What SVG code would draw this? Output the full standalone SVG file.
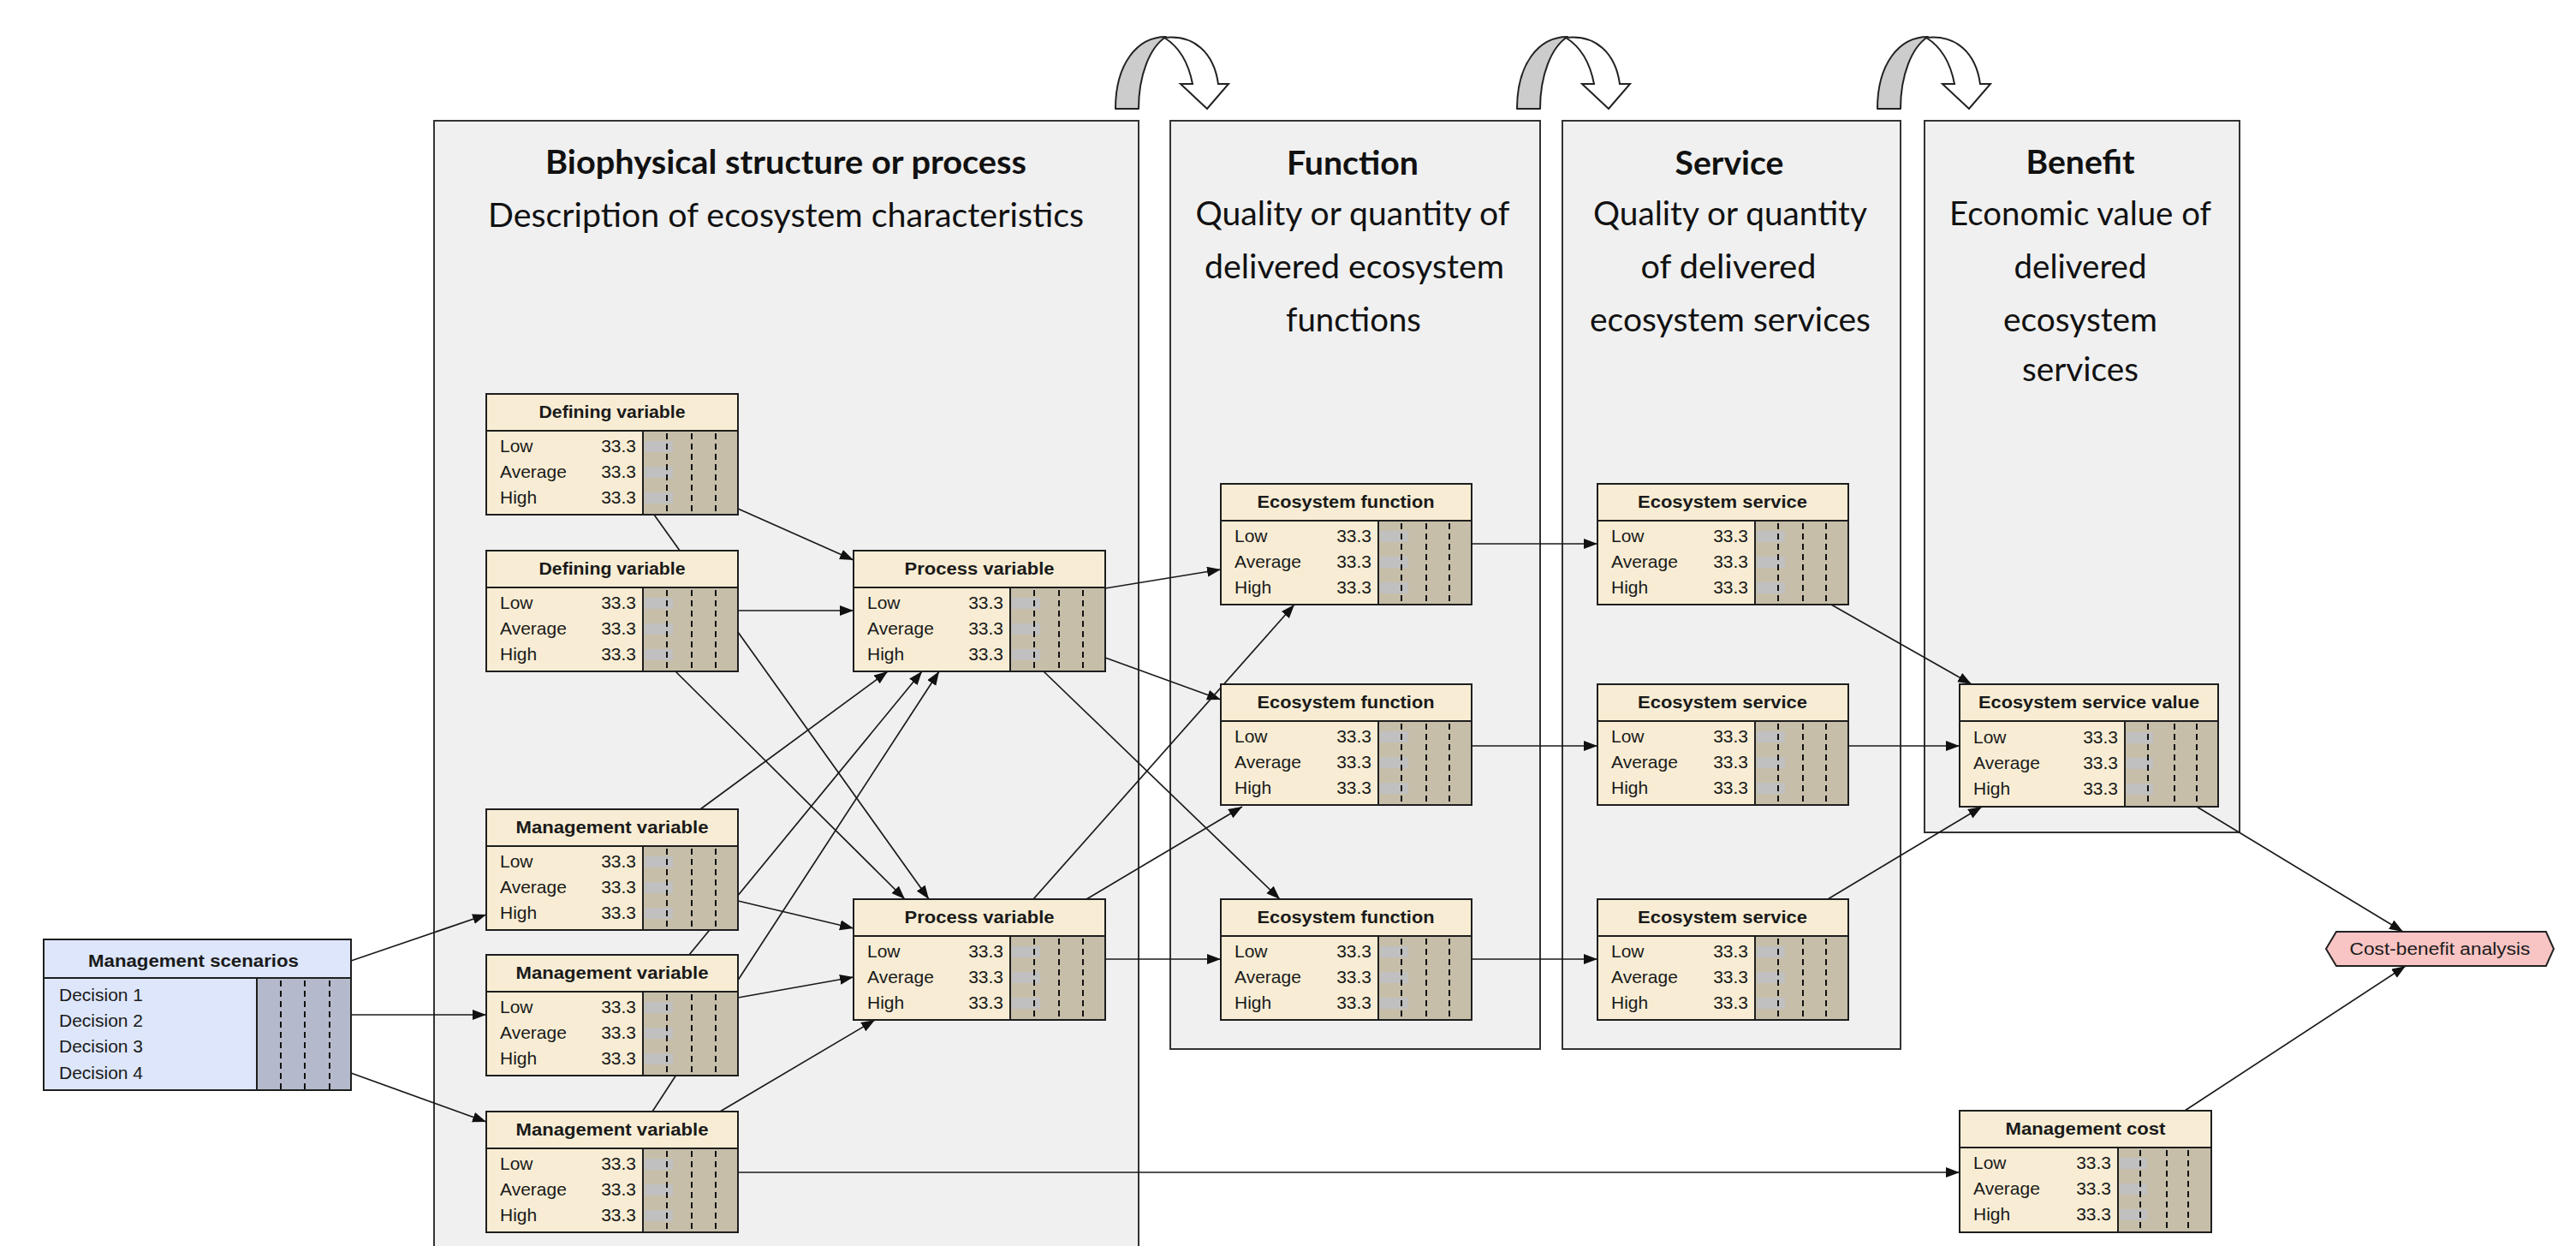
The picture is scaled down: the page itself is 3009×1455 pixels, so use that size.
<svg xmlns="http://www.w3.org/2000/svg" xmlns:xlink="http://www.w3.org/1999/xlink" width="3009" height="1455" viewBox="0 0 3009 1455">
  <style>
    .panel { fill: #f0f0f0; stroke: #333333; stroke-width: 2; }
    .hb { font-family: Lato, "Liberation Sans", sans-serif; font-weight: bold; font-size: 39px; fill: #111111; text-anchor: middle; }
    .hd { font-family: Lato, "Liberation Sans", sans-serif; font-size: 39px; fill: #111111; text-anchor: middle; }
    .nb { fill: #f8edd4; }
    .nbb { fill: #dde6fa; }
    .ng { fill: #c6bea9; }
    .ngb { fill: #b4bacb; }
    .frame { fill: none; stroke: #1e1e1e; stroke-width: 2; }
    .sep { stroke: #1e1e1e; stroke-width: 2; }
    .bar { fill: #c0c0c0; }
    .dash { stroke: #111111; stroke-width: 2; stroke-dasharray: 7 5; }
    .t { font-family: "Liberation Sans", Arial, sans-serif; font-weight: bold; font-size: 20px; fill: #1a1a1a; text-anchor: middle; }
    .r { font-family: "Liberation Sans", Arial, sans-serif; font-size: 21px; fill: #1a1a1a; }
    .v { font-family: "Liberation Sans", Arial, sans-serif; font-size: 21px; fill: #1a1a1a; text-anchor: end; }
    .edge { stroke: #1a1a1a; stroke-width: 1.7; fill: none; marker-end: url(#head); }
    .turn-back { fill: #cccccc; stroke: #222222; stroke-width: 2; stroke-linejoin: round; }
    .turn-front { fill: #ffffff; stroke: #222222; stroke-width: 2; stroke-linejoin: miter; }
  </style>
  <defs>
    <marker id="head" markerUnits="userSpaceOnUse" markerWidth="18" markerHeight="14" refX="16" refY="6" orient="auto">
      <path d="M0,0 L16,6 L0,12 Z" fill="#111111"/>
    </marker>
    <g id="turn">
      <path class="turn-back" d="M1303,127 C1303,75 1328,43 1362,43 C1343,55 1330,88 1330,127 Z"/>
      <path class="turn-front" d="M1360,44 C1395,40 1418,62 1423,98 L1435,98 L1410,127 L1379,98 L1393,98 C1388,72 1378,55 1360,44 Z"/>
    </g>
  </defs>

  <rect width="3009" height="1455" fill="#ffffff"/>

  <!-- column panels -->
  <g id="panels">
    <rect class="panel" x="507" y="141" width="823" height="1340"/>
    <rect class="panel" x="1367" y="141" width="432" height="1084"/>
    <rect class="panel" x="1825" y="141" width="395" height="1084"/>
    <rect class="panel" x="2248" y="141" width="368" height="831"/>
  </g>

  <!-- step arrows between columns -->
  <g id="step-arrows">
    <use xlink:href="#turn"/>
    <use xlink:href="#turn" transform="translate(469,0)"/>
    <use xlink:href="#turn" transform="translate(890,0)"/>
  </g>

  <!-- column headings -->
  <g id="headings">
    <text class="hb" x="918" y="203" textLength="562" lengthAdjust="spacingAndGlyphs">Biophysical structure or process</text>
    <text class="hd" x="918" y="265" textLength="696" lengthAdjust="spacingAndGlyphs">Description of ecosystem characteristics</text>

    <text class="hb" x="1580" y="204" textLength="154" lengthAdjust="spacingAndGlyphs">Function</text>
    <text class="hd" x="1580" y="263" textLength="367" lengthAdjust="spacingAndGlyphs">Quality or quantity of</text>
    <text class="hd" x="1582" y="325" textLength="350" lengthAdjust="spacingAndGlyphs">delivered ecosystem</text>
    <text class="hd" x="1581" y="387" textLength="158" lengthAdjust="spacingAndGlyphs">functions</text>

    <text class="hb" x="2020" y="204" textLength="127" lengthAdjust="spacingAndGlyphs">Service</text>
    <text class="hd" x="2021" y="263" textLength="320" lengthAdjust="spacingAndGlyphs">Quality or quantity</text>
    <text class="hd" x="2019" y="325" textLength="205" lengthAdjust="spacingAndGlyphs">of delivered</text>
    <text class="hd" x="2021" y="387" textLength="328" lengthAdjust="spacingAndGlyphs">ecosystem services</text>

    <text class="hb" x="2430" y="203" textLength="127" lengthAdjust="spacingAndGlyphs">Benefit</text>
    <text class="hd" x="2430" y="263" textLength="306" lengthAdjust="spacingAndGlyphs">Economic value of</text>
    <text class="hd" x="2430" y="325" textLength="155" lengthAdjust="spacingAndGlyphs">delivered</text>
    <text class="hd" x="2430" y="387" textLength="180" lengthAdjust="spacingAndGlyphs">ecosystem</text>
    <text class="hd" x="2430" y="445" textLength="136" lengthAdjust="spacingAndGlyphs">services</text>
  </g>

  <!-- links between variables -->
  <g id="connectors">
    <line class="edge" x1="410" y1="1122" x2="568" y2="1068"/>
    <line class="edge" x1="410" y1="1185" x2="568" y2="1185"/>
    <line class="edge" x1="410" y1="1253" x2="568" y2="1310"/>
    <line class="edge" x1="862" y1="594" x2="997" y2="654"/>
    <line class="edge" x1="764" y1="601" x2="1085" y2="1050"/>
    <line class="edge" x1="862" y1="713" x2="997" y2="713"/>
    <line class="edge" x1="789" y1="784" x2="1057" y2="1050"/>
    <line class="edge" x1="818" y1="945" x2="1037" y2="784"/>
    <line class="edge" x1="805" y1="1115" x2="1077" y2="784"/>
    <line class="edge" x1="762" y1="1298" x2="1097" y2="784"/>
    <line class="edge" x1="862" y1="1052" x2="997" y2="1084"/>
    <line class="edge" x1="862" y1="1165" x2="997" y2="1141"/>
    <line class="edge" x1="841" y1="1298" x2="1022" y2="1191"/>
    <line class="edge" x1="862" y1="1369" x2="2289" y2="1369"/>
    <line class="edge" x1="1291" y1="687" x2="1426" y2="665"/>
    <line class="edge" x1="1291" y1="768" x2="1426" y2="817"/>
    <line class="edge" x1="1219" y1="784" x2="1495" y2="1050"/>
    <line class="edge" x1="1207" y1="1050" x2="1512" y2="706"/>
    <line class="edge" x1="1269" y1="1050" x2="1451" y2="942"/>
    <line class="edge" x1="1291" y1="1120" x2="1426" y2="1120"/>
    <line class="edge" x1="1719" y1="635" x2="1866" y2="635"/>
    <line class="edge" x1="1719" y1="871" x2="1866" y2="871"/>
    <line class="edge" x1="1719" y1="1120" x2="1866" y2="1120"/>
    <line class="edge" x1="2139" y1="706" x2="2303" y2="799"/>
    <line class="edge" x1="2159" y1="871" x2="2289" y2="871"/>
    <line class="edge" x1="2135" y1="1050" x2="2315" y2="942"/>
    <line class="edge" x1="2566" y1="942" x2="2807" y2="1088"/>
    <line class="edge" x1="2552" y1="1297" x2="2810" y2="1128"/>
  </g>

  <!-- decision node -->
  <g id="management-scenarios" transform="translate(51,1097)">
    <rect class="nbb" width="359" height="176"/>
    <rect class="ngb" x="249" y="45" width="110" height="131"/>
    <line class="sep" x1="0" y1="45" x2="359" y2="45"/>
    <line class="sep" x1="249" y1="45" x2="249" y2="176"/>
    <line class="dash" x1="277" y1="48" x2="277" y2="176"/>
    <line class="dash" x1="305" y1="48" x2="305" y2="176"/>
    <line class="dash" x1="334" y1="48" x2="334" y2="176"/>
    <rect class="frame" width="359" height="176"/>
    <text class="t" x="175" y="32" textLength="246" lengthAdjust="spacingAndGlyphs">Management scenarios</text>
    <text class="r" x="18" y="72">Decision 1</text>
    <text class="r" x="18" y="102">Decision 2</text>
    <text class="r" x="18" y="132">Decision 3</text>
    <text class="r" x="18" y="163">Decision 4</text>
  </g>

  <!-- biophysical variables -->
  <g id="defining-variable-1" transform="translate(568,460)">
    <rect class="nb" width="294" height="141"/>
    <rect class="ng" x="183" y="43" width="111" height="98"/>
    <rect class="bar" x="185" y="55" width="33" height="13"/>
    <rect class="bar" x="185" y="85" width="33" height="13"/>
    <rect class="bar" x="185" y="115" width="33" height="13"/>
    <line class="sep" x1="0" y1="43" x2="294" y2="43"/>
    <line class="sep" x1="183" y1="43" x2="183" y2="141"/>
    <line class="dash" x1="211" y1="46" x2="211" y2="141"/>
    <line class="dash" x1="240" y1="46" x2="240" y2="141"/>
    <line class="dash" x1="268" y1="46" x2="268" y2="141"/>
    <rect class="frame" width="294" height="141"/>
    <text class="t" x="147" y="28" textLength="171" lengthAdjust="spacingAndGlyphs">Defining variable</text>
    <text class="r" x="16" y="68">Low</text><text class="v" x="175" y="68">33.3</text>
    <text class="r" x="16" y="98">Average</text><text class="v" x="175" y="98">33.3</text>
    <text class="r" x="16" y="128">High</text><text class="v" x="175" y="128">33.3</text>
  </g>

  <g id="defining-variable-2" transform="translate(568,643)">
    <rect class="nb" width="294" height="141"/>
    <rect class="ng" x="183" y="43" width="111" height="98"/>
    <rect class="bar" x="185" y="55" width="33" height="13"/>
    <rect class="bar" x="185" y="85" width="33" height="13"/>
    <rect class="bar" x="185" y="115" width="33" height="13"/>
    <line class="sep" x1="0" y1="43" x2="294" y2="43"/>
    <line class="sep" x1="183" y1="43" x2="183" y2="141"/>
    <line class="dash" x1="211" y1="46" x2="211" y2="141"/>
    <line class="dash" x1="240" y1="46" x2="240" y2="141"/>
    <line class="dash" x1="268" y1="46" x2="268" y2="141"/>
    <rect class="frame" width="294" height="141"/>
    <text class="t" x="147" y="28" textLength="171" lengthAdjust="spacingAndGlyphs">Defining variable</text>
    <text class="r" x="16" y="68">Low</text><text class="v" x="175" y="68">33.3</text>
    <text class="r" x="16" y="98">Average</text><text class="v" x="175" y="98">33.3</text>
    <text class="r" x="16" y="128">High</text><text class="v" x="175" y="128">33.3</text>
  </g>

  <g id="management-variable-1" transform="translate(568,945)">
    <rect class="nb" width="294" height="141"/>
    <rect class="ng" x="183" y="43" width="111" height="98"/>
    <rect class="bar" x="185" y="55" width="33" height="13"/>
    <rect class="bar" x="185" y="85" width="33" height="13"/>
    <rect class="bar" x="185" y="115" width="33" height="13"/>
    <line class="sep" x1="0" y1="43" x2="294" y2="43"/>
    <line class="sep" x1="183" y1="43" x2="183" y2="141"/>
    <line class="dash" x1="211" y1="46" x2="211" y2="141"/>
    <line class="dash" x1="240" y1="46" x2="240" y2="141"/>
    <line class="dash" x1="268" y1="46" x2="268" y2="141"/>
    <rect class="frame" width="294" height="141"/>
    <text class="t" x="147" y="28" textLength="225" lengthAdjust="spacingAndGlyphs">Management variable</text>
    <text class="r" x="16" y="68">Low</text><text class="v" x="175" y="68">33.3</text>
    <text class="r" x="16" y="98">Average</text><text class="v" x="175" y="98">33.3</text>
    <text class="r" x="16" y="128">High</text><text class="v" x="175" y="128">33.3</text>
  </g>

  <g id="management-variable-2" transform="translate(568,1115)">
    <rect class="nb" width="294" height="141"/>
    <rect class="ng" x="183" y="43" width="111" height="98"/>
    <rect class="bar" x="185" y="55" width="33" height="13"/>
    <rect class="bar" x="185" y="85" width="33" height="13"/>
    <rect class="bar" x="185" y="115" width="33" height="13"/>
    <line class="sep" x1="0" y1="43" x2="294" y2="43"/>
    <line class="sep" x1="183" y1="43" x2="183" y2="141"/>
    <line class="dash" x1="211" y1="46" x2="211" y2="141"/>
    <line class="dash" x1="240" y1="46" x2="240" y2="141"/>
    <line class="dash" x1="268" y1="46" x2="268" y2="141"/>
    <rect class="frame" width="294" height="141"/>
    <text class="t" x="147" y="28" textLength="225" lengthAdjust="spacingAndGlyphs">Management variable</text>
    <text class="r" x="16" y="68">Low</text><text class="v" x="175" y="68">33.3</text>
    <text class="r" x="16" y="98">Average</text><text class="v" x="175" y="98">33.3</text>
    <text class="r" x="16" y="128">High</text><text class="v" x="175" y="128">33.3</text>
  </g>

  <g id="management-variable-3" transform="translate(568,1298)">
    <rect class="nb" width="294" height="141"/>
    <rect class="ng" x="183" y="43" width="111" height="98"/>
    <rect class="bar" x="185" y="55" width="33" height="13"/>
    <rect class="bar" x="185" y="85" width="33" height="13"/>
    <rect class="bar" x="185" y="115" width="33" height="13"/>
    <line class="sep" x1="0" y1="43" x2="294" y2="43"/>
    <line class="sep" x1="183" y1="43" x2="183" y2="141"/>
    <line class="dash" x1="211" y1="46" x2="211" y2="141"/>
    <line class="dash" x1="240" y1="46" x2="240" y2="141"/>
    <line class="dash" x1="268" y1="46" x2="268" y2="141"/>
    <rect class="frame" width="294" height="141"/>
    <text class="t" x="147" y="28" textLength="225" lengthAdjust="spacingAndGlyphs">Management variable</text>
    <text class="r" x="16" y="68">Low</text><text class="v" x="175" y="68">33.3</text>
    <text class="r" x="16" y="98">Average</text><text class="v" x="175" y="98">33.3</text>
    <text class="r" x="16" y="128">High</text><text class="v" x="175" y="128">33.3</text>
  </g>

  <g id="process-variable-1" transform="translate(997,643)">
    <rect class="nb" width="294" height="141"/>
    <rect class="ng" x="183" y="43" width="111" height="98"/>
    <rect class="bar" x="185" y="55" width="33" height="13"/>
    <rect class="bar" x="185" y="85" width="33" height="13"/>
    <rect class="bar" x="185" y="115" width="33" height="13"/>
    <line class="sep" x1="0" y1="43" x2="294" y2="43"/>
    <line class="sep" x1="183" y1="43" x2="183" y2="141"/>
    <line class="dash" x1="211" y1="46" x2="211" y2="141"/>
    <line class="dash" x1="240" y1="46" x2="240" y2="141"/>
    <line class="dash" x1="268" y1="46" x2="268" y2="141"/>
    <rect class="frame" width="294" height="141"/>
    <text class="t" x="147" y="28" textLength="175" lengthAdjust="spacingAndGlyphs">Process variable</text>
    <text class="r" x="16" y="68">Low</text><text class="v" x="175" y="68">33.3</text>
    <text class="r" x="16" y="98">Average</text><text class="v" x="175" y="98">33.3</text>
    <text class="r" x="16" y="128">High</text><text class="v" x="175" y="128">33.3</text>
  </g>

  <g id="process-variable-2" transform="translate(997,1050)">
    <rect class="nb" width="294" height="141"/>
    <rect class="ng" x="183" y="43" width="111" height="98"/>
    <rect class="bar" x="185" y="55" width="33" height="13"/>
    <rect class="bar" x="185" y="85" width="33" height="13"/>
    <rect class="bar" x="185" y="115" width="33" height="13"/>
    <line class="sep" x1="0" y1="43" x2="294" y2="43"/>
    <line class="sep" x1="183" y1="43" x2="183" y2="141"/>
    <line class="dash" x1="211" y1="46" x2="211" y2="141"/>
    <line class="dash" x1="240" y1="46" x2="240" y2="141"/>
    <line class="dash" x1="268" y1="46" x2="268" y2="141"/>
    <rect class="frame" width="294" height="141"/>
    <text class="t" x="147" y="28" textLength="175" lengthAdjust="spacingAndGlyphs">Process variable</text>
    <text class="r" x="16" y="68">Low</text><text class="v" x="175" y="68">33.3</text>
    <text class="r" x="16" y="98">Average</text><text class="v" x="175" y="98">33.3</text>
    <text class="r" x="16" y="128">High</text><text class="v" x="175" y="128">33.3</text>
  </g>

  <!-- function variables -->
  <g id="ecosystem-function-1" transform="translate(1426,565)">
    <rect class="nb" width="293" height="141"/>
    <rect class="ng" x="184" y="43" width="109" height="98"/>
    <rect class="bar" x="186" y="55" width="33" height="13"/>
    <rect class="bar" x="186" y="85" width="33" height="13"/>
    <rect class="bar" x="186" y="115" width="33" height="13"/>
    <line class="sep" x1="0" y1="43" x2="293" y2="43"/>
    <line class="sep" x1="184" y1="43" x2="184" y2="141"/>
    <line class="dash" x1="211" y1="46" x2="211" y2="141"/>
    <line class="dash" x1="240" y1="46" x2="240" y2="141"/>
    <line class="dash" x1="267" y1="46" x2="267" y2="141"/>
    <rect class="frame" width="293" height="141"/>
    <text class="t" x="146" y="28" textLength="207" lengthAdjust="spacingAndGlyphs">Ecosystem function</text>
    <text class="r" x="16" y="68">Low</text><text class="v" x="176" y="68">33.3</text>
    <text class="r" x="16" y="98">Average</text><text class="v" x="176" y="98">33.3</text>
    <text class="r" x="16" y="128">High</text><text class="v" x="176" y="128">33.3</text>
  </g>

  <g id="ecosystem-function-2" transform="translate(1426,799)">
    <rect class="nb" width="293" height="141"/>
    <rect class="ng" x="184" y="43" width="109" height="98"/>
    <rect class="bar" x="186" y="55" width="33" height="13"/>
    <rect class="bar" x="186" y="85" width="33" height="13"/>
    <rect class="bar" x="186" y="115" width="33" height="13"/>
    <line class="sep" x1="0" y1="43" x2="293" y2="43"/>
    <line class="sep" x1="184" y1="43" x2="184" y2="141"/>
    <line class="dash" x1="211" y1="46" x2="211" y2="141"/>
    <line class="dash" x1="240" y1="46" x2="240" y2="141"/>
    <line class="dash" x1="267" y1="46" x2="267" y2="141"/>
    <rect class="frame" width="293" height="141"/>
    <text class="t" x="146" y="28" textLength="207" lengthAdjust="spacingAndGlyphs">Ecosystem function</text>
    <text class="r" x="16" y="68">Low</text><text class="v" x="176" y="68">33.3</text>
    <text class="r" x="16" y="98">Average</text><text class="v" x="176" y="98">33.3</text>
    <text class="r" x="16" y="128">High</text><text class="v" x="176" y="128">33.3</text>
  </g>

  <g id="ecosystem-function-3" transform="translate(1426,1050)">
    <rect class="nb" width="293" height="141"/>
    <rect class="ng" x="184" y="43" width="109" height="98"/>
    <rect class="bar" x="186" y="55" width="33" height="13"/>
    <rect class="bar" x="186" y="85" width="33" height="13"/>
    <rect class="bar" x="186" y="115" width="33" height="13"/>
    <line class="sep" x1="0" y1="43" x2="293" y2="43"/>
    <line class="sep" x1="184" y1="43" x2="184" y2="141"/>
    <line class="dash" x1="211" y1="46" x2="211" y2="141"/>
    <line class="dash" x1="240" y1="46" x2="240" y2="141"/>
    <line class="dash" x1="267" y1="46" x2="267" y2="141"/>
    <rect class="frame" width="293" height="141"/>
    <text class="t" x="146" y="28" textLength="207" lengthAdjust="spacingAndGlyphs">Ecosystem function</text>
    <text class="r" x="16" y="68">Low</text><text class="v" x="176" y="68">33.3</text>
    <text class="r" x="16" y="98">Average</text><text class="v" x="176" y="98">33.3</text>
    <text class="r" x="16" y="128">High</text><text class="v" x="176" y="128">33.3</text>
  </g>

  <!-- service variables -->
  <g id="ecosystem-service-1" transform="translate(1866,565)">
    <rect class="nb" width="293" height="141"/>
    <rect class="ng" x="184" y="43" width="109" height="98"/>
    <rect class="bar" x="186" y="55" width="33" height="13"/>
    <rect class="bar" x="186" y="85" width="33" height="13"/>
    <rect class="bar" x="186" y="115" width="33" height="13"/>
    <line class="sep" x1="0" y1="43" x2="293" y2="43"/>
    <line class="sep" x1="184" y1="43" x2="184" y2="141"/>
    <line class="dash" x1="211" y1="46" x2="211" y2="141"/>
    <line class="dash" x1="240" y1="46" x2="240" y2="141"/>
    <line class="dash" x1="267" y1="46" x2="267" y2="141"/>
    <rect class="frame" width="293" height="141"/>
    <text class="t" x="146" y="28" textLength="198" lengthAdjust="spacingAndGlyphs">Ecosystem service</text>
    <text class="r" x="16" y="68">Low</text><text class="v" x="176" y="68">33.3</text>
    <text class="r" x="16" y="98">Average</text><text class="v" x="176" y="98">33.3</text>
    <text class="r" x="16" y="128">High</text><text class="v" x="176" y="128">33.3</text>
  </g>

  <g id="ecosystem-service-2" transform="translate(1866,799)">
    <rect class="nb" width="293" height="141"/>
    <rect class="ng" x="184" y="43" width="109" height="98"/>
    <rect class="bar" x="186" y="55" width="33" height="13"/>
    <rect class="bar" x="186" y="85" width="33" height="13"/>
    <rect class="bar" x="186" y="115" width="33" height="13"/>
    <line class="sep" x1="0" y1="43" x2="293" y2="43"/>
    <line class="sep" x1="184" y1="43" x2="184" y2="141"/>
    <line class="dash" x1="211" y1="46" x2="211" y2="141"/>
    <line class="dash" x1="240" y1="46" x2="240" y2="141"/>
    <line class="dash" x1="267" y1="46" x2="267" y2="141"/>
    <rect class="frame" width="293" height="141"/>
    <text class="t" x="146" y="28" textLength="198" lengthAdjust="spacingAndGlyphs">Ecosystem service</text>
    <text class="r" x="16" y="68">Low</text><text class="v" x="176" y="68">33.3</text>
    <text class="r" x="16" y="98">Average</text><text class="v" x="176" y="98">33.3</text>
    <text class="r" x="16" y="128">High</text><text class="v" x="176" y="128">33.3</text>
  </g>

  <g id="ecosystem-service-3" transform="translate(1866,1050)">
    <rect class="nb" width="293" height="141"/>
    <rect class="ng" x="184" y="43" width="109" height="98"/>
    <rect class="bar" x="186" y="55" width="33" height="13"/>
    <rect class="bar" x="186" y="85" width="33" height="13"/>
    <rect class="bar" x="186" y="115" width="33" height="13"/>
    <line class="sep" x1="0" y1="43" x2="293" y2="43"/>
    <line class="sep" x1="184" y1="43" x2="184" y2="141"/>
    <line class="dash" x1="211" y1="46" x2="211" y2="141"/>
    <line class="dash" x1="240" y1="46" x2="240" y2="141"/>
    <line class="dash" x1="267" y1="46" x2="267" y2="141"/>
    <rect class="frame" width="293" height="141"/>
    <text class="t" x="146" y="28" textLength="198" lengthAdjust="spacingAndGlyphs">Ecosystem service</text>
    <text class="r" x="16" y="68">Low</text><text class="v" x="176" y="68">33.3</text>
    <text class="r" x="16" y="98">Average</text><text class="v" x="176" y="98">33.3</text>
    <text class="r" x="16" y="128">High</text><text class="v" x="176" y="128">33.3</text>
  </g>

  <!-- value and cost variables -->
  <g id="ecosystem-service-value" transform="translate(2289,799)">
    <rect class="nb" width="302" height="143"/>
    <rect class="ng" x="193" y="43" width="109" height="100"/>
    <rect class="bar" x="195" y="56" width="31" height="13"/>
    <rect class="bar" x="195" y="86" width="31" height="13"/>
    <rect class="bar" x="195" y="116" width="31" height="13"/>
    <line class="sep" x1="0" y1="43" x2="302" y2="43"/>
    <line class="sep" x1="193" y1="43" x2="193" y2="143"/>
    <line class="dash" x1="220" y1="46" x2="220" y2="143"/>
    <line class="dash" x1="251" y1="46" x2="251" y2="143"/>
    <line class="dash" x1="277" y1="46" x2="277" y2="143"/>
    <rect class="frame" width="302" height="143"/>
    <text class="t" x="151" y="28" textLength="258" lengthAdjust="spacingAndGlyphs">Ecosystem service value</text>
    <text class="r" x="16" y="69">Low</text><text class="v" x="185" y="69">33.3</text>
    <text class="r" x="16" y="99">Average</text><text class="v" x="185" y="99">33.3</text>
    <text class="r" x="16" y="129">High</text><text class="v" x="185" y="129">33.3</text>
  </g>

  <g id="management-cost" transform="translate(2289,1297)">
    <rect class="nb" width="294" height="142"/>
    <rect class="ng" x="185" y="43" width="109" height="99"/>
    <rect class="bar" x="187" y="55" width="32" height="13"/>
    <rect class="bar" x="187" y="85" width="32" height="13"/>
    <rect class="bar" x="187" y="115" width="32" height="13"/>
    <line class="sep" x1="0" y1="43" x2="294" y2="43"/>
    <line class="sep" x1="185" y1="43" x2="185" y2="142"/>
    <line class="dash" x1="211" y1="46" x2="211" y2="142"/>
    <line class="dash" x1="242" y1="46" x2="242" y2="142"/>
    <line class="dash" x1="267" y1="46" x2="267" y2="142"/>
    <rect class="frame" width="294" height="142"/>
    <text class="t" x="147" y="28" textLength="187" lengthAdjust="spacingAndGlyphs">Management cost</text>
    <text class="r" x="16" y="68">Low</text><text class="v" x="177" y="68">33.3</text>
    <text class="r" x="16" y="98">Average</text><text class="v" x="177" y="98">33.3</text>
    <text class="r" x="16" y="128">High</text><text class="v" x="177" y="128">33.3</text>
  </g>

  <!-- utility node -->
  <g id="cost-benefit-analysis">
    <polygon points="2717,1108 2729,1088 2974,1088 2983,1108 2974,1128 2729,1128" fill="#f8c4c4" stroke="#222222" stroke-width="2"/>
    <text class="t" x="2850" y="1115" font-weight="normal" textLength="211" lengthAdjust="spacingAndGlyphs" style="font-weight:normal">Cost-benefit analysis</text>
  </g>
</svg>
